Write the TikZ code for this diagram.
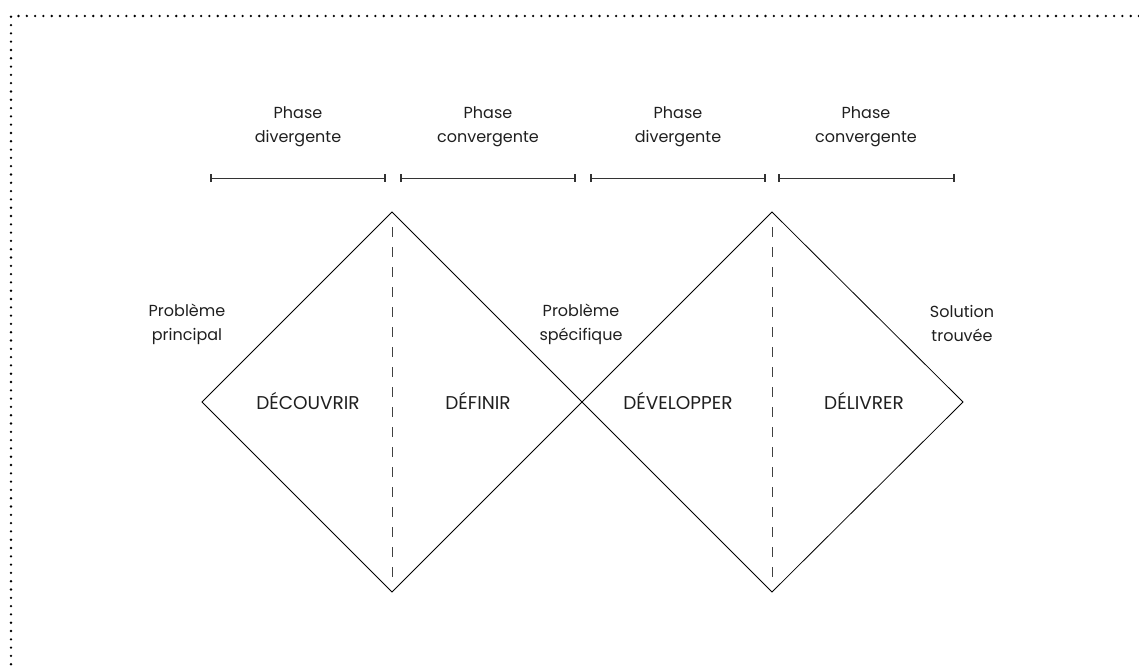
\documentclass[tikz,border=0pt]{standalone}
\usepackage{fontspec}
\setmainfont{Poppins}
\usetikzlibrary{arrows.meta}
\tikzset{
  lbl/.style={font=\fontsize{16}{24}\selectfont, align=center, text=black!88, inner sep=0pt},
  stage/.style={font=\fontsize{18.5}{24}\selectfont, text=black!88, inner sep=0pt},
  edge/.style={line width=0.8pt, black},
  divider/.style={line width=0.8pt, black!75, dash pattern=on 10pt off 10pt},
  span/.style={line width=0.8pt, black!80, {Bar[width=8pt,line width=1.6pt]}-{Bar[width=8pt,line width=1.6pt]}},
  frame/.style={line width=2.6pt, line cap=round, dash pattern=on 0pt off 8.3pt, black}
}
\begin{document}
\begin{tikzpicture}[x=1pt,y=-1pt]
\useasboundingbox (0,0) rectangle (1139,666);
% dotted frame
\coordinate (fa) at (11,16);
\coordinate (fb) at (1139,16);
\coordinate (fc) at (11,666);
\draw[frame] (fb) -- (fa) -- (fc);
% diamond corners
\coordinate (t1) at (392,212);
\coordinate (b1) at (392,592);
\coordinate (l1) at (202,402);
\coordinate (m) at (582,402);
\coordinate (t2) at (772,212);
\coordinate (b2) at (772,592);
\coordinate (r2) at (963,402);
\draw[edge] (l1) -- (t1) -- (m) -- (t2) -- (r2) -- (b2) -- (m) -- (b1) -- cycle;
% dashed dividers
\coordinate (d1a) at (392,227);
\coordinate (d1b) at (392,582);
\coordinate (d2a) at (772,227);
\coordinate (d2b) at (772,582);
\draw[divider] (d1a) -- (d1b);
\draw[divider] (d2a) -- (d2b);
% spans
\coordinate (s1a) at (210,178); \coordinate (s1b) at (386,178);
\coordinate (s2a) at (400,178); \coordinate (s2b) at (576,178);
\coordinate (s3a) at (590,178); \coordinate (s3b) at (766,178);
\coordinate (s4a) at (778,178); \coordinate (s4b) at (955,178);
\draw[span] (s1a) -- (s1b);
\draw[span] (s2a) -- (s2b);
\draw[span] (s3a) -- (s3b);
\draw[span] (s4a) -- (s4b);
% phase labels
\node[lbl] (p1) at (298,127) {Phase\\divergente};
\node[lbl] (p2) at (488,127) {Phase\\convergente};
\node[lbl] (p3) at (678,127) {Phase\\divergente};
\node[lbl] (p4) at (866,127) {Phase\\convergente};
% side labels
\node[lbl] (q1) at (187,324) {Problème\\principal};
\node[lbl] (q2) at (581,324) {Problème\\spécifique};
\node[lbl] (q3) at (962,323) {Solution\\trouvée};
% stage labels
\node[stage] (st1) at (308,401) {DÉCOUVRIR};
\node[stage] (st2) at (478,401) {DÉFINIR};
\node[stage] (st3) at (678,401) {DÉVELOPPER};
\node[stage] (st4) at (864,401) {DÉLIVRER};
\end{tikzpicture}
\end{document}
